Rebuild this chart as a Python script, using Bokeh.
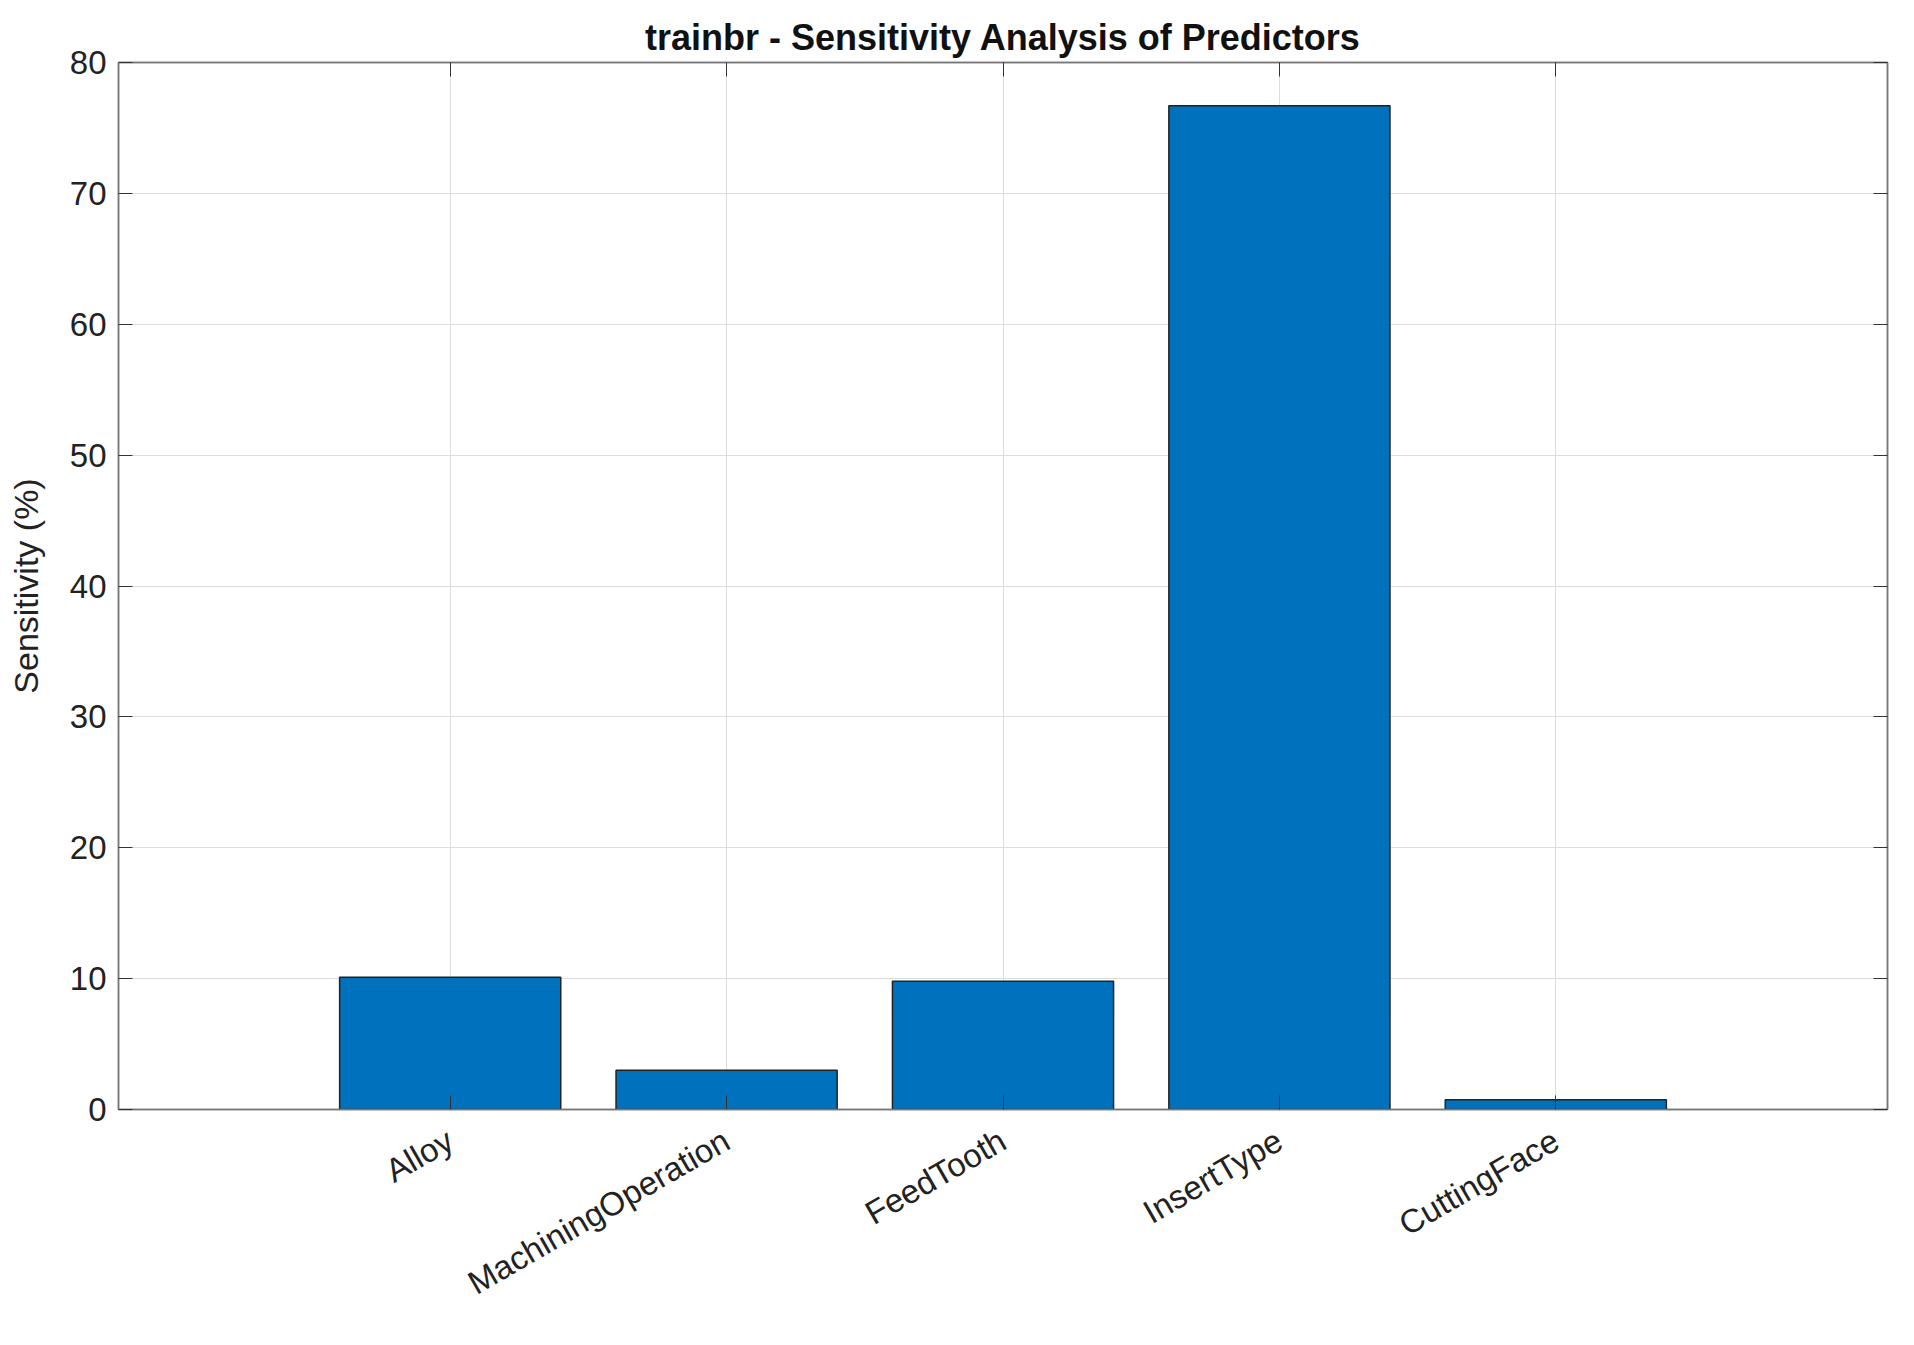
import math
from bokeh.plotting import figure
from bokeh.models import FixedTicker, Range1d, LinearAxis
from bokeh.embed import file_html
from bokeh.resources import INLINE

categories = ["Alloy", "MachiningOperation", "FeedTooth", "InsertType", "CuttingFace"]
values = [10.1, 3.0, 9.8, 76.7, 0.75]
positions = [1, 2, 3, 4, 5]
yticks = [0, 10, 20, 30, 40, 50, 60, 70, 80]

p = figure(width=1900, height=1330, output_backend="svg", toolbar_location=None,
           x_range=Range1d(-0.2, 6.2), y_range=Range1d(0, 80),
           min_border_left=118, min_border_right=13, min_border_top=62, min_border_bottom=221)
p.title.text = "trainbr - Sensitivity Analysis of Predictors"
p.title.align = "center"
p.title.text_font = "Liberation Sans"
p.title.text_font_size = "36px"
p.title.text_font_style = "bold"
p.title.text_color = "#111111"

p.vbar(x=positions, top=values, width=0.8, bottom=0, fill_color="#0072BD", line_color="#222222", line_width=1.5)

p.xaxis.ticker = FixedTicker(ticks=positions)
p.xaxis.major_label_overrides = {pos: c for pos, c in zip(positions, categories)}
p.xaxis.major_label_orientation = math.pi / 6
p.xaxis.major_label_standoff = 28
p.yaxis.ticker = FixedTicker(ticks=yticks)
p.yaxis.axis_label = "Sensitivity (%)"
p.yaxis.axis_label_text_font_style = "normal"
p.yaxis.major_label_standoff = 12
p.yaxis.axis_label_standoff = 22
for ax in [p.xaxis[0], p.yaxis[0]]:
    ax.major_label_text_font = "Liberation Sans"
    ax.major_label_text_font_size = "33px"
    ax.major_label_text_color = "#222222"
    ax.axis_label_text_font = "Liberation Sans"
    ax.axis_label_text_font_size = "34px"
    ax.axis_label_text_color = "#222222"
    ax.major_tick_in = 14
    ax.major_tick_out = 0
    ax.minor_tick_line_color = None
    ax.axis_line_color = "#777777"
    ax.major_tick_line_color = "#333333"
    ax.axis_line_width = 1.5

top = LinearAxis(ticker=FixedTicker(ticks=positions), major_label_text_alpha=0,
                 major_label_text_font_size="1px", major_label_standoff=0,
                 major_tick_in=14, major_tick_out=0, minor_tick_line_color=None,
                 axis_line_color="#777777", axis_line_width=1.5, major_tick_line_color="#333333")
right = LinearAxis(ticker=FixedTicker(ticks=yticks), major_label_text_alpha=0,
                   major_label_text_font_size="1px", major_label_standoff=0,
                   major_tick_in=14, major_tick_out=0, minor_tick_line_color=None,
                   axis_line_color="#777777", axis_line_width=1.5, major_tick_line_color="#333333")
p.add_layout(top, "above")
p.add_layout(right, "right")

p.xgrid.ticker = FixedTicker(ticks=positions)
p.grid.grid_line_color = "#dddddd"
p.grid.grid_line_width = 1
p.outline_line_color = "#777777"
p.outline_line_width = 1.5

open("out.html", "w").write(file_html(p, INLINE))
